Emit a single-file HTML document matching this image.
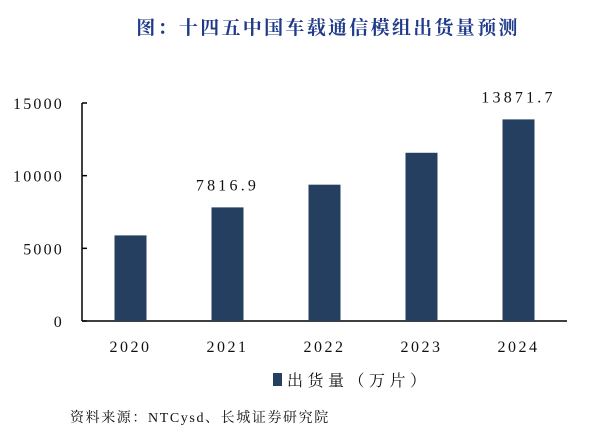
<!DOCTYPE html>
<html><head><meta charset="utf-8"><style>
body{margin:0;background:#fff;width:615px;height:441px;overflow:hidden;font-family:"Liberation Serif","Noto Serif CJK SC",serif}
</style></head><body>
<svg width="615" height="441" xmlns="http://www.w3.org/2000/svg">
<text x="328" y="34" text-anchor="middle" font-size="19" letter-spacing="2.3" font-weight="bold" fill="#1f3a8a" font-family="'Noto Serif CJK SC',serif">图：十四五中国车载通信模组出货量预测</text>
<g id="axes"></g>
<g id="bars"></g>
<g>
<rect x="273" y="373" width="9" height="13" fill="#243f60"/>
<text x="287" y="386" font-size="16" letter-spacing="4.5" font-family="'Noto Serif CJK SC',serif" fill="#111">出货量（万片）</text>
</g>
<text x="70" y="422" font-size="14" letter-spacing="1.6" fill="#111" font-family="'Liberation Serif','Noto Serif CJK SC',serif">资料来源：NTCysd、长城证券研究院</text>
</svg>
<script>
const categories=["2020","2021","2022","2023","2024"];
const values=[5890,7816.9,9380,11575,13871.7];
const labels=["","7816.9","","","13871.7"];
const yTicks=[0,5000,10000,15000];
const NS="http://www.w3.org/2000/svg";
const x0=82,x1=567,y0=321,yTop=103,yMax=15000;
const y=v=>y0-(v/yMax)*(y0-yTop);
const band=(x1-x0)/categories.length;
const xc=i=>x0+band*(i+0.5);
function mk(t,a,p){const e=document.createElementNS(NS,t);for(const k in a)e.setAttribute(k,a[k]);p.appendChild(e);return e;}
const ax=document.getElementById('axes'),bs=document.getElementById('bars');
let l=mk('line',{x1:x0,y1:yTop,x2:x0,y2:y0,stroke:'#000','stroke-width':1.5},ax);


l=mk('line',{x1:x0,y1:y0,x2:x1,y2:y0,stroke:'#000','stroke-width':1.5},ax);


yTicks.forEach(v=>{
 const t=mk('line',{x1:x0,y1:y(v),x2:x0+5,y2:y(v),stroke:'#000','stroke-width':1.5},ax);
 
 
 const tx=mk('text',{x:64,y:y(v)+6,'text-anchor':'end','font-size':16,'letter-spacing':2.2,fill:'#111'},ax);
 tx.textContent=v;
 
 
});
categories.forEach((c,i)=>{
 const r=mk('rect',{x:xc(i)-16,y:y(values[i]),width:32,height:y0-y(values[i]),fill:'#243f60'},bs);
 
 
 const tx=mk('text',{x:xc(i),y:352,'text-anchor':'middle','font-size':16,'letter-spacing':2.5,fill:'#111'},ax);
 tx.textContent=c;
 
 
 if(labels[i]){
  const lb=mk('text',{x:xc(i),y:y(values[i])-17,'text-anchor':'middle','font-size':16,'letter-spacing':3.2,fill:'#111'},bs);
  lb.textContent=labels[i];
  
  
 }
});
</script>
</body></html>
